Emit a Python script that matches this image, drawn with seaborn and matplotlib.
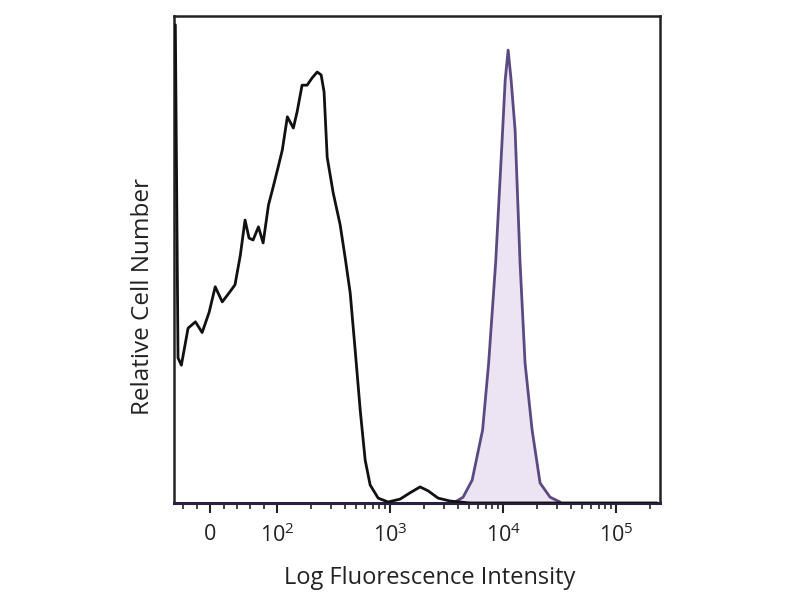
import numpy as np
import pandas as pd
import seaborn as sns
import matplotlib
matplotlib.use("Agg")
import matplotlib.pyplot as plt
from matplotlib.ticker import FixedLocator, FixedFormatter

# 未染色 (black outline)
ctrl_x = [-52, -48, -43, -33, -22, -12, -1.5, 7.5, 18, 28, 37, 45, 52, 58, 64, 72, 79, 87, 94,
          102, 111, 123, 139, 150, 166, 184, 204, 226, 245, 260, 277, 313, 361, 400, 443, 490,
          543, 601, 665, 783, 960, 1225, 1503, 1841, 2167, 2658, 3394, 4160, 5104, 230000]
ctrl_y = [98.2, 29.8, 28.3, 35.9, 37.2, 35.0, 39.2, 44.4, 41.3, 43.1, 44.8, 50.9, 58.1, 54.4,
          54.0, 56.7, 53.4, 61.2, 64.9, 69.0, 72.5, 79.3, 77.0, 80.3, 85.8, 85.8, 87.3, 88.5,
          87.9, 84.4, 71.0, 63.7, 57.1, 50.3, 43.1, 31.4, 19.1, 8.8, 3.7, 1.0, 0.2, 0.8, 2.1,
          3.3, 2.5, 1.0, 0.4, 0.2, 0.0, 0.0]

# 染色 (purple filled)
stain_x = [3758, 4426, 5322, 6586, 7447, 8590, 9910, 10440, 11080, 11770, 12770, 14130,
           15650, 18060, 21250, 26040, 31930]
stain_y = [0.2, 1.2, 4.7, 15.0, 28.7, 49.3, 76.6, 86.9, 93.0, 86.9, 76.6, 49.3, 28.7, 15.0,
           4.1, 1.2, 0.2]

tick_pos = [0, 1e2, 1e3, 1e4, 1e5]
tick_lab = ["0", "$10^{2}$", "$10^{3}$", "$10^{4}$", "$10^{5}$"]

sns.set_style("white")
plt.rcParams['font.family'] = ['Open Sans', 'DejaVu Sans']
plt.rcParams['mathtext.fontset'] = 'custom'
plt.rcParams['mathtext.rm'] = 'Open Sans'
plt.rcParams['mathtext.it'] = 'Open Sans'

fig = plt.figure(figsize=(8, 6), dpi=100)
ax = fig.add_axes([0.2175, 0.1617, 0.6075, 0.8116])
ax.set_xscale("symlog", linthresh=100, linscale=0.534)

df_c = pd.DataFrame({"x": ctrl_x, "y": ctrl_y})
df_s = pd.DataFrame({"x": stain_x, "y": stain_y})

ax.fill_between(df_s["x"], df_s["y"], color="#ede4f3", zorder=1)
sns.lineplot(data=df_s, x="x", y="y", sort=False, color="#5b4a82", lw=2, ax=ax, zorder=2)
sns.lineplot(data=df_c, x="x", y="y", sort=False, color="#111111", lw=2, ax=ax, zorder=3)

ax.set_xlim(-54, 245000)
ax.set_ylim(0, 100)

ax.xaxis.set_major_locator(FixedLocator(tick_pos))
ax.xaxis.set_major_formatter(FixedFormatter(tick_lab))
minor = [-40, -20, 20, 40, 60, 80]
for d in [100, 1000, 10000, 100000]:
    minor += [d * k for k in range(2, 10) if d * k < 245000]
ax.xaxis.set_minor_locator(FixedLocator(minor))
ax.tick_params(axis="x", which="major", direction="out", length=7, width=1.5,
               labelsize=15.5, pad=8, colors="#222222", bottom=True)
ax.tick_params(axis="x", which="minor", direction="out", length=4, width=1.2,
               bottom=True, colors="#222222")
ax.set_yticks([])

for s in ax.spines.values():
    s.set_visible(True)
    s.set_color("#222222")
    s.set_linewidth(1.8)
ax.spines["bottom"].set_color("#2a2040")
ax.spines["bottom"].set_linewidth(2.2)

ax.set_xlabel("Log Fluorescence Intensity", fontsize=17, color="#222222")
ax.xaxis.set_label_coords(0.527, -0.13)
ax.set_ylabel("Relative Cell Number", fontsize=17.5, color="#222222")
ax.yaxis.set_label_coords(-0.04, 0.423)

plt.savefig("out.png", dpi=100)
